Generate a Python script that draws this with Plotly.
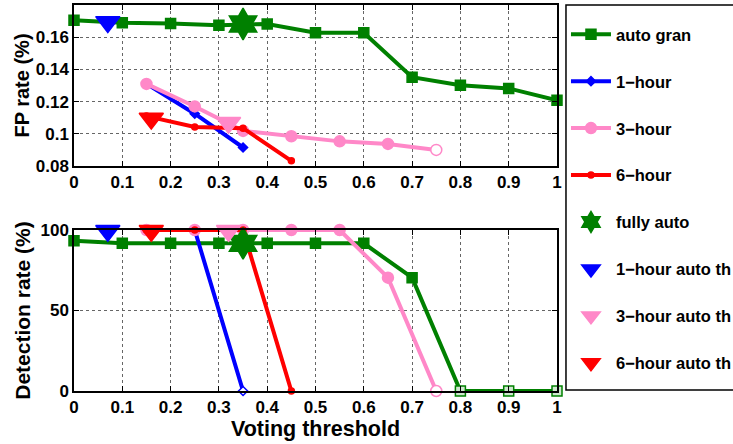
import plotly.graph_objects as go
from plotly.subplots import make_subplots

thresholds = [0.0, 0.1, 0.2, 0.3, 0.4, 0.5, 0.6, 0.7, 0.8, 0.9, 1.0]
auto_fp = [0.1705, 0.169, 0.1685, 0.1675, 0.1682, 0.1628, 0.1628, 0.1352, 0.1302, 0.1282, 0.1208]
auto_det = [93.4, 91.7, 91.7, 91.7, 91.7, 91.7, 91.7, 70.4, 0, 0, 0]

h1_x = [0.15, 0.25, 0.35]
h1_fp = [0.131, 0.1125, 0.0915]
h1_det = [100, 100, 0]

h3_x = [0.15, 0.25, 0.35, 0.45, 0.55, 0.65, 0.75]
h3_fp = [0.131, 0.117, 0.1018, 0.0985, 0.0953, 0.0937, 0.0900]
h3_det = [100, 100, 100, 100, 100, 70.4, 0]

h6_x = [0.15, 0.25, 0.35, 0.45]
h6_fp = [0.1110, 0.1042, 0.1035, 0.0832]
h6_det = [100, 100, 100, 0]

fully_x = [0.35]
fully_fp = [0.1682]
fully_det = [91.7]

th1_x, th1_fp, th1_det = [0.07], [0.1695], [99.5]
th3_x, th3_fp, th3_det = [0.32], [0.1068], [99.5]
th6_x, th6_fp, th6_det = [0.16], [0.1095], [99.5]

legend_names = ["auto gran", "1−hour", "3−hour", "6−hour", "fully auto",
                "1−hour auto th", "3−hour auto th", "6−hour auto th"]

GREEN = "#008000"
BLUE = "#0000ff"
PINK = "#ff88c8"
RED = "#ff0000"
FONT = "Liberation Sans"

fig = make_subplots(rows=2, cols=1, vertical_spacing=0.0)

def add(name, x, ytop, ybot, color, symbol, size, mode="lines+markers", width=4,
        fill_top=None, fill_bot=None):
    for row, y, fill in ((1, ytop, fill_top), (2, ybot, fill_bot)):
        mk = dict(symbol=symbol, size=size, color=fill if fill else color,
                  line=dict(color=color, width=1.5))
        fig.add_trace(go.Scatter(
            x=x, y=y, name=name, mode=mode, legendgroup=name,
            showlegend=(row == 1), cliponaxis=False,
            line=dict(color=color, width=width), marker=mk,
        ), row=row, col=1)

add(legend_names[0], thresholds, auto_fp, auto_det, GREEN, "square", 10,
    fill_bot=[GREEN] * 8 + ["#cfe8cf"] * 3)
add(legend_names[1], h1_x, h1_fp, h1_det, BLUE, "diamond", 7,
    fill_bot=[BLUE, BLUE, "white"])
add(legend_names[2], h3_x, h3_fp, h3_det, PINK, "circle", 11,
    fill_top=[PINK] * 6 + ["white"], fill_bot=[PINK] * 6 + ["white"])
add(legend_names[3], h6_x, h6_fp, h6_det, RED, "circle", 6)
add(legend_names[4], fully_x, fully_fp, fully_det, GREEN, "hexagram", 24, mode="markers")
add(legend_names[5], th1_x, th1_fp, th1_det, BLUE, "triangle-down", 21, mode="markers")
add(legend_names[6], th3_x, th3_fp, th3_det, PINK, "triangle-down", 21, mode="markers")
add(legend_names[7], th6_x, th6_fp, th6_det, RED, "triangle-down", 21, mode="markers")

tickfont = dict(family=FONT, size=17, color="black", weight="bold")
titlefont = dict(family=FONT, size=21, weight="bold", color="black")
axis_common = dict(showline=True, linecolor="black", linewidth=1.5, mirror="ticks",
                   ticks="inside", ticklen=5, tickcolor="black", tickfont=tickfont,
                   showgrid=True, gridcolor="#666666", griddash="dot", gridwidth=1,
                   zeroline=False, automargin=False)

fig.update_xaxes(range=[0, 1], dtick=0.1, tick0=0, domain=[0, 1], **axis_common)
fig.update_yaxes(**axis_common)
fig.update_yaxes(range=[0.08, 0.18], tickvals=[0.08, 0.1, 0.12, 0.14, 0.16],
                 ticktext=["0.08", "0.1", "0.12", "0.14", "0.16"],
                 domain=[0.5829, 1.0], row=1, col=1,
                 title=dict(text="FP rate (%)", standoff=1,
                            font=dict(family=FONT, size=20, weight="bold", color="black")))
fig.update_yaxes(range=[0, 100], tickvals=[0, 50, 100], domain=[0.0, 0.4171], row=2, col=1,
                 title=dict(text="Detection rate (%)", standoff=4, font=titlefont))
fig.update_xaxes(row=2, col=1,
                 title=dict(text="Voting threshold", standoff=0,
                            font=dict(family=FONT, size=21.5, weight="bold", color="black")))

# legend frame (open on the right, as the legend runs past the figure edge)
fig.add_shape(type="rect", xref="paper", yref="paper",
              x0=1.0186, x1=1.6, y0=0.0026, y1=1.0,
              line=dict(color="black", width=1.5), fillcolor="rgba(0,0,0,0)")

fig.update_layout(
    width=733, height=444,
    margin=dict(l=74, r=176, t=5, b=53, autoexpand=False),
    paper_bgcolor="white", plot_bgcolor="white",
    font=dict(family=FONT, color="black"),
    legend=dict(x=1.0186, y=0.969, xanchor="left", yanchor="top",
                borderwidth=0,
                font=dict(family=FONT, size=16.5, weight="bold", color="black"),
                traceorder="grouped", tracegroupgap=22.5, itemwidth=40,
                bgcolor="rgba(0,0,0,0)"),
)

fig.write_html("out.html")
